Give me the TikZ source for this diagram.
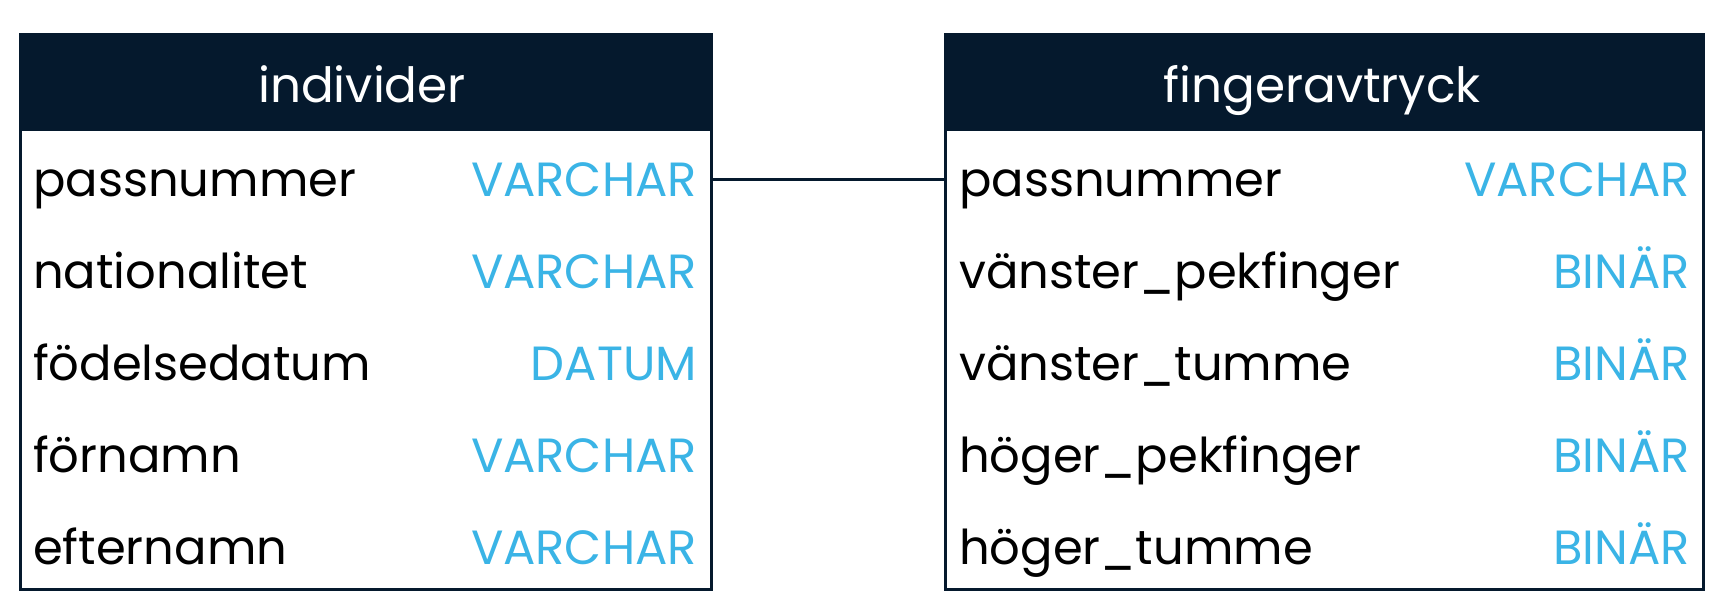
\documentclass[tikz,border=0pt]{standalone}
\usepackage{fontspec}
\setmainfont{Poppins}
\definecolor{navy}{HTML}{05192D}
\definecolor{typeblue}{HTML}{3AB4E6}
\begin{document}
\begin{tikzpicture}[x=1pt,y=-1pt,
  tablebox/.style={draw=navy,line width=3pt,fill=white},
  headbox/.style={draw=navy,line width=3pt,fill=navy},
  headtext/.style={text=white,font=\fontsize{48.5}{54}\selectfont,anchor=base,inner sep=0pt},
  colname/.style={text=black,font=\fontsize{48}{54}\selectfont,anchor=base west,inner sep=0pt},
  coltype/.style={text=typeblue,font=\fontsize{48}{54}\selectfont,anchor=base east,inner sep=0pt},
  link/.style={draw=navy,line width=3pt}]
\useasboundingbox (0,0) rectangle (1720,608);
% left table
\draw[tablebox] (20,34) rectangle (711,589);
\path[headbox] (20,34) rectangle (711,129);
\node[headtext] (lh) at (362,102) {individer};
\coordinate (lr) at (711,179);
\node[colname] (l1) at (33,196) {passnummer};
\node[coltype] (l1t) at (697,196) {VARCHAR};
\node[colname] (l2) at (33,288) {nationalitet};
\node[coltype] (l2t) at (697,288) {VARCHAR};
\node[colname] (l3) at (33,380) {födelsedatum};
\node[coltype] (l3t) at (697,380) {DATUM};
\node[colname] (l4) at (33,472) {förnamn};
\node[coltype] (l4t) at (697,472) {VARCHAR};
\node[colname] (l5) at (33,564) {efternamn};
\node[coltype] (l5t) at (697,564) {VARCHAR};
% right table
\draw[tablebox] (945,34) rectangle (1703,589);
\path[headbox] (945,34) rectangle (1703,129);
\node[headtext] (rh) at (1322,102) {fingeravtryck};
\coordinate (rl) at (945,179);
\node[colname] (r1) at (959,196) {passnummer};
\node[coltype] (r1t) at (1690,196) {VARCHAR};
\node[colname] (r2) at (959,288) {vänster\_pekfinger};
\node[coltype] (r2t) at (1690,288) {BINÄR};
\node[colname] (r3) at (959,380) {vänster\_tumme};
\node[coltype] (r3t) at (1690,380) {BINÄR};
\node[colname] (r4) at (959,472) {höger\_pekfinger};
\node[coltype] (r4t) at (1690,472) {BINÄR};
\node[colname] (r5) at (959,564) {höger\_tumme};
\node[coltype] (r5t) at (1690,564) {BINÄR};
% connector
\draw[link] (lr) -- (rl);
\end{tikzpicture}
\end{document}
